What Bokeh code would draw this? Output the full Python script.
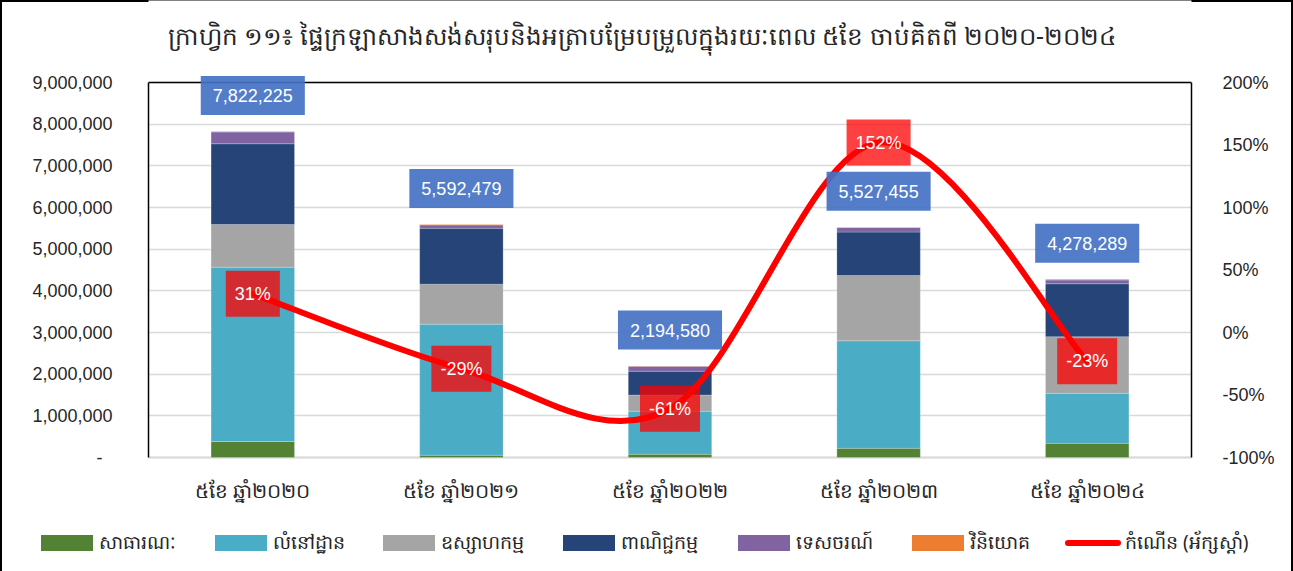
from bokeh.plotting import figure
from bokeh.layouts import column
from bokeh.models import (Range1d, LinearAxis, FixedTicker, NumeralTickFormatter,
                          Label, ColumnDataSource, Span, Div)
from bokeh.embed import file_html
from bokeh.resources import INLINE

title_text = "ក្រាហ្វិក ១១៖ ផ្ទៃក្រឡាសាងសង់សរុបនិងអត្រាបម្រែបម្រួលក្នុងរយៈពេល ៥ខែ ចាប់គិតពី ២០២០-២០២៤"
categories = ["៥ខែ ឆ្នាំ២០២០", "៥ខែ ឆ្នាំ២០២១", "៥ខែ ឆ្នាំ២០២២", "៥ខែ ឆ្នាំ២០២៣", "៥ខែ ឆ្នាំ២០២៤"]
series_names = ["សាធារណៈ", "លំនៅដ្ឋាន", "ឧស្សាហកម្ម", "ពាណិជ្ជកម្ម", "ទេសចរណ៍", "វិនិយោគ"]
line_name = "កំណើន (អ័ក្សស្តាំ)"

public = [384000, 55000, 80000, 220000, 340000]
residential = [4183000, 3145000, 1030000, 2580000, 1200000]
industrial = [1023000, 960000, 390000, 1570000, 1360000]
commercial = [1940000, 1340000, 570000, 1040000, 1270000]
tourism = [282000, 80000, 120000, 110000, 90000]
investment = [10225, 12479, 4580, 7455, 18289]
totals = [7822225, 5592479, 2194580, 5527455, 4278289]
growth = [31, -29, -61, 152, -23]

left_ticks = [0, 1000000, 2000000, 3000000, 4000000, 5000000, 6000000, 7000000, 8000000, 9000000]
right_ticks = [-100, -50, 0, 50, 100, 150, 200]

colors = ["#548235", "#4BACC6", "#A5A5A5", "#264478", "#8064A2", "#ED7D31"]
LINE_COLOR = "#FF0000"
FONT = "Noto Sans"
NUMFONT = "Liberation Sans"
TXT = "#262626"

# layout (pixels)
W, H = 1293, 571
H1 = 518                 # chart part; the legend strip sits below it
FRAME_L, FRAME_R = 148, 1191
TOP_PX, ZERO_PX = 82, 457    # where the axes' max and min lie
plot_h = ZERO_PX - TOP_PX

lmin, lmax = left_ticks[0], left_ticks[-1]
rmin, rmax = right_ticks[0], right_ticks[-1]
upp_l = (lmax - lmin) / plot_h
upp_r = (rmax - rmin) / plot_h
y_start, y_end = lmin - (H1 - ZERO_PX) * upp_l, lmax + TOP_PX * upp_l
r_start, r_end = rmin - (H1 - ZERO_PX) * upp_r, rmax + TOP_PX * upp_r

xs = list(range(len(categories)))
keys = ["s0", "s1", "s2", "s3", "s4", "s5"]
src = ColumnDataSource(dict(x=xs, s0=public, s1=residential, s2=industrial,
                            s3=commercial, s4=tourism, s5=investment))

p = figure(width=W, height=H1, output_backend="svg", toolbar_location=None,
           x_axis_location=None,
           x_range=Range1d(-0.5, 4.5), y_range=Range1d(y_start, y_end),
           min_border_left=FRAME_L, min_border_right=W - FRAME_R, min_border_top=0,
           min_border_bottom=0)
p.background_fill_color = "white"
p.border_fill_color = None
p.outline_line_color = None
p.styles = {"background-color": "white",
            "box-shadow": "inset 2px 2px 0 0 #000000, inset -2px 0 0 0 #000000"}

# grid
p.xgrid.visible = False
p.ygrid.grid_line_color = "#D9D9D9"
p.ygrid.grid_line_width = 1.5

# plot-area top edge and base line
p.add_layout(Span(location=lmax, dimension="width", line_color="black", line_width=1.5,
                  level="underlay"))
p.add_layout(Span(location=lmin, dimension="width", line_color="#D9D9D9", line_width=2,
                  level="underlay"))

bars = p.vbar_stack(keys, x="x", width=0.4, color=colors, source=src,
                    line_color="white", line_alpha=0.35, line_width=0.6)

# growth line (smoothed with bezier segments)
p.extra_y_ranges = {"pct": Range1d(r_start, r_end)}
n = len(growth)
bx0, by0, bx1, by1, cx0, cy0, cx1, cy1 = [], [], [], [], [], [], [], []
for i in range(n - 1):
    pm = max(i - 1, 0)
    pn = min(i + 2, n - 1)
    bx0.append(xs[i]); by0.append(growth[i])
    bx1.append(xs[i + 1]); by1.append(growth[i + 1])
    cx0.append(xs[i] + (xs[i + 1] - xs[pm]) / 6)
    cy0.append(growth[i] + (growth[i + 1] - growth[pm]) / 6)
    cx1.append(xs[i + 1] - (xs[pn] - xs[i]) / 6)
    cy1.append(growth[i + 1] - (growth[pn] - growth[i]) / 6)
p.bezier(x0=bx0, y0=by0, x1=bx1, y1=by1, cx0=cx0, cy0=cy0, cx1=cx1, cy1=cy1,
         line_color=LINE_COLOR, line_width=6, line_cap="round", y_range_name="pct")

# left axis
ya = p.yaxis[0]
ya.ticker = FixedTicker(ticks=left_ticks)
ya.formatter = NumeralTickFormatter(format="0,0")
ya.major_label_overrides = {0: "-  "}
ya.bounds = (lmin, lmax)
ya.axis_line_color = "black"
ya.axis_line_width = 1.5
ya.major_tick_line_color = None
ya.minor_tick_line_color = None
ya.major_label_standoff = 30
ya.major_label_text_font = NUMFONT
ya.major_label_text_font_size = "18px"
ya.major_label_text_color = TXT

# right axis
ra = LinearAxis(y_range_name="pct", ticker=FixedTicker(ticks=right_ticks),
                major_label_overrides={t: f"{t}%" for t in right_ticks})
ra.bounds = (rmin, rmax)
ra.axis_line_color = "black"
ra.axis_line_width = 1.5
ra.major_tick_line_color = None
ra.minor_tick_line_color = None
ra.major_label_standoff = 25
ra.major_label_text_font = NUMFONT
ra.major_label_text_font_size = "18px"
ra.major_label_text_color = TXT
p.add_layout(ra, "right")

# title
p.add_layout(Label(x=2, y=lmax, x_offset=-28, y_offset=TOP_PX - 35, text=title_text,
                   text_align="center", text_baseline="middle",
                   text_font=FONT, text_font_size="24.6px", text_color=TXT))

# category labels under the bars
for i in range(n):
    p.add_layout(Label(x=xs[i], y=lmin, y_offset=-33, text=categories[i],
                       text_align="center", text_baseline="middle",
                       text_font=FONT, text_font_size="20px", text_color=TXT))

# total labels
for i in range(n):
    p.add_layout(Label(x=xs[i], y=totals[i], y_offset=36, text=f"{totals[i]:,}",
                       text_align="center", text_baseline="middle",
                       text_font=NUMFONT, text_font_size="18px", text_color="white",
                       background_fill_color="#4472C4", background_fill_alpha=0.92,
                       padding=dict(left=12, right=12, top=13, bottom=13)))

# growth labels
for i in range(n):
    p.add_layout(Label(x=xs[i], y=growth[i], y_range_name="pct", text=f"{growth[i]}%",
                       text_align="center", text_baseline="middle",
                       text_font=NUMFONT, text_font_size="18px", text_color="white",
                       background_fill_color="#FF0000", background_fill_alpha=0.75,
                       padding=dict(left=9, right=9, top=13, bottom=13)))

# legend strip (HTML, below the chart)
H2 = H - H1
leg_x = [41, 215, 383, 563, 738, 912, 1065]
items_html = []
for lab, c, lx in zip(series_names, colors, leg_x):
    items_html.append(
        f'<div style="position:absolute;left:{lx}px;top:10px;height:30px;display:flex;'
        f'align-items:center;white-space:nowrap;">'
        f'<span style="display:inline-block;width:52px;height:16px;background:{c};'
        f'margin-right:6px;"></span><span>{lab}</span></div>')
items_html.append(
    f'<div style="position:absolute;left:{leg_x[-1]}px;top:10px;height:30px;display:flex;'
    f'align-items:center;white-space:nowrap;">'
    f'<span style="display:inline-block;width:56px;height:6px;border-radius:3px;'
    f'background:{LINE_COLOR};margin-right:4px;"></span><span>{line_name}</span></div>')
legend_html = (
    f'<div style="position:relative;width:{W}px;height:{H2}px;background:white;'
    f'font-family:\'{FONT}\';font-size:19px;color:{TXT};overflow:hidden;">'
    f'<div style="position:absolute;left:0;top:0;width:2px;height:{H2}px;background:#000;"></div>'
    f'<div style="position:absolute;right:0;top:0;width:2px;height:{H2}px;background:#000;"></div>'
    + "".join(items_html) + '</div>')
legend_div = Div(text=legend_html, width=W, height=H2, margin=0)

page = column(p, legend_div, spacing=0)

open("out.html", "w").write(file_html(page, INLINE))
